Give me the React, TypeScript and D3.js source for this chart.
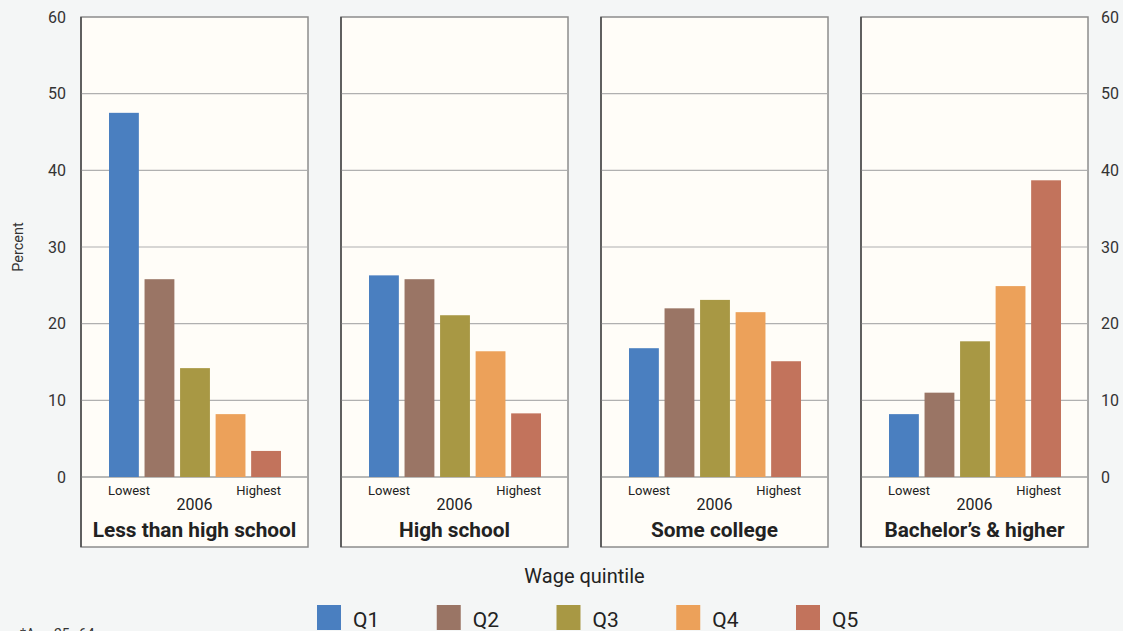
import React, { useEffect } from "react";
import * as d3 from "d3";

// Share of workers in each wage quintile, by education level (2006)
const educationLevels = [
  "Less than high school",
  "High school",
  "Some college",
  "Bachelor’s & higher",
];
const quintiles = ["Q1", "Q2", "Q3", "Q4", "Q5"];
const lessThanHighSchool = [47.5, 25.8, 14.2, 8.2, 3.4];
const highSchool = [26.3, 25.8, 21.1, 16.4, 8.3];
const someCollege = [16.8, 22.0, 23.1, 21.5, 15.1];
const bachelorsAndHigher = [8.2, 11.0, 17.7, 24.9, 38.7];
const seriesByLevel = [lessThanHighSchool, highSchool, someCollege, bachelorsAndHigher];
const yTicks = [0, 10, 20, 30, 40, 50, 60];
const quintileColors = ["#4a7fc0", "#9a7565", "#a89844", "#eca15a", "#c2735c"];

const W = 1123;
const H = 631;
const FONT = "Roboto, 'Noto Sans', sans-serif";

export default function App() {
  useEffect(() => {
    document.body.style.margin = "0";
    document.body.style.overflow = "hidden";
  }, []);

  const panelX = d3
    .scaleBand<string>()
    .domain(educationLevels)
    .range([81, 1088])
    .paddingInner(33 / 260);
  const pw = panelX.bandwidth();

  const barX = d3
    .scaleBand<string>()
    .domain(quintiles)
    .range([28, 200])
    .paddingInner(0.16);

  const y = d3.scaleLinear().domain([0, 60]).range([477, 17]);
  const panelTop = y(60);
  const panelBottom = 547;

  const legendX = d3.scalePoint<string>().domain(quintiles).range([317, 796]);
  const color = d3.scaleOrdinal<string, string>().domain(quintiles).range(quintileColors);

  return (
    <svg
      width={W}
      height={H}
      style={{ position: "absolute", left: 0, top: 0, display: "block" }}
      fontFamily={FONT}
    >
      <rect x={0} y={0} width={W} height={H} fill="#f4f6f6" />

      {/* left and right value axes */}
      {yTicks.map((t) => (
        <g key={"yt" + t} fill="#333" fontSize={16}>
          <text x={66} y={y(t)} dy="0.35em" textAnchor="end">
            {t}
          </text>
          <text x={1101} y={y(t)} dy="0.35em" textAnchor="start">
            {t}
          </text>
        </g>
      ))}
      <text
        transform={`translate(23,${(y(0) + y(60)) / 2}) rotate(-90)`}
        textAnchor="middle"
        fontSize={14.5}
        fill="#333"
      >
        Percent
      </text>

      {educationLevels.map((level, i) => {
        const x0 = panelX(level)!;
        const values = seriesByLevel[i];
        return (
          <g key={level} transform={`translate(${x0},0)`}>
            <rect
              x={0}
              y={panelTop}
              width={pw}
              height={panelBottom - panelTop}
              fill="#fffdf8"
              stroke="#8c8c8c"
              strokeWidth={1.5}
            />
            <line x1={0} x2={0} y1={panelTop} y2={panelBottom} stroke="#3a3a3a" strokeWidth={1.3} />
            {yTicks.slice(1, -1).map((t) => (
              <line
                key={t}
                x1={0.8}
                x2={pw - 0.8}
                y1={y(t)}
                y2={y(t)}
                stroke="#b0b0b0"
                strokeWidth={1.2}
              />
            ))}
            <line x1={0.8} x2={pw - 0.8} y1={y(0)} y2={y(0)} stroke="#a0a0a0" strokeWidth={1.4} />
            {quintiles.map((q, j) => (
              <rect
                key={q}
                x={barX(q)!}
                y={y(values[j])}
                width={barX.bandwidth()}
                height={y(0) - y(values[j])}
                fill={color(q)}
              />
            ))}
            <text
              x={barX("Q1")! - 1}
              y={495}
              fontSize={13}
              fill="#222"
              textAnchor="start"
            >
              Lowest
            </text>
            <text
              x={barX("Q5")! + barX.bandwidth()}
              y={495}
              fontSize={13}
              fill="#222"
              textAnchor="end"
            >
              Highest
            </text>
            <text x={pw / 2} y={510} fontSize={16} fill="#222" textAnchor="middle">
              2006
            </text>
            <text
              x={pw / 2}
              y={537}
              fontSize={20.8}
              fontWeight={700}
              fill="#222"
              textAnchor="middle"
            >
              {level}
            </text>
          </g>
        );
      })}

      <text x={(81 + 1088) / 2} y={583} fontSize={20} fill="#222" textAnchor="middle">
        Wage quintile
      </text>

      {quintiles.map((q) => (
        <g key={"lg" + q} transform={`translate(${legendX(q)},605)`}>
          <rect x={0} y={0} width={24} height={25} fill={color(q)} />
          <text x={36} y={21.5} fontSize={21} fill="#222">
            {q}
          </text>
        </g>
      ))}

      <text x={20} y={639} fontSize={14} fill="#333">
        *Age 25–64
      </text>
    </svg>
  );
}
